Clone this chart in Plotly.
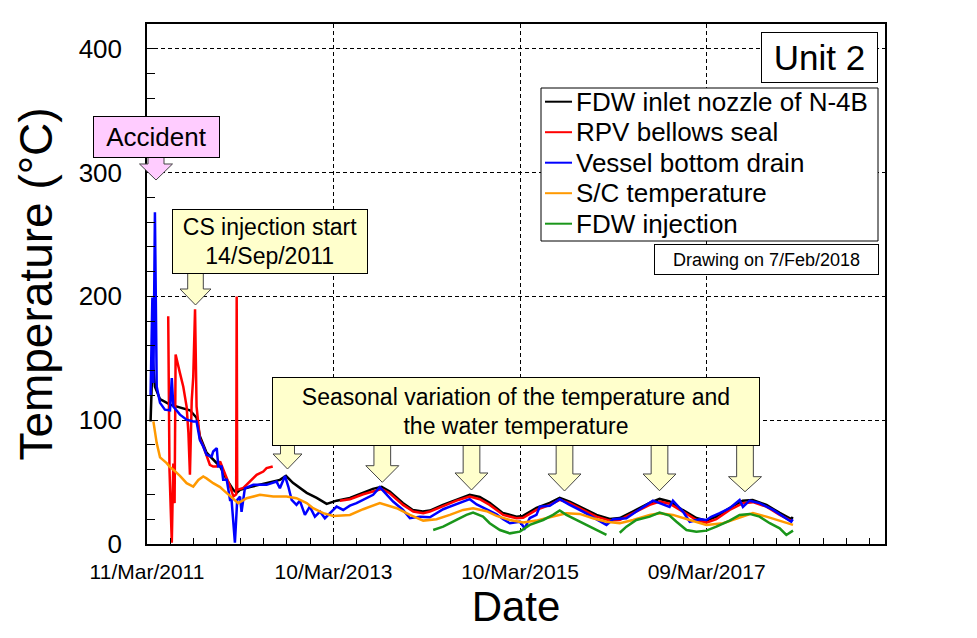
import pandas as pd
import plotly.graph_objects as go

# ---------------- data (days elapsed since 11/Mar/2011, temperature in degC) ----------------
accident_date = "2011-03-11"

fdw_nozzle_days = [14, 19, 22, 31, 51, 90, 116, 141, 168, 194, 207, 233, 259, 286, 312, 338, 351, 364,
                   403, 442, 468, 520, 544, 571, 625, 664, 703, 727, 742, 794, 845, 884, 918, 950,
                   1001, 1040, 1079, 1107, 1158, 1211, 1263, 1302, 1341, 1392, 1446, 1471, 1524,
                   1576, 1615, 1654, 1705, 1759, 1811, 1850, 1901, 1967, 2006, 2045, 2096, 2150,
                   2189, 2228, 2280, 2331, 2370, 2424, 2476, 2521, 2527]
fdw_nozzle_vals = [99, 140, 150, 127, 117, 112.5, 111, 110, 108, 102, 87, 73.7, 68, 62.6, 52, 43.7, 41.3, 43.7,
                   46, 47.8, 49.4, 51.8, 55, 49.4, 41.3, 37.2, 32.4, 34.3, 35, 37.2, 41.3, 44.5, 46.2, 42.3,
                   33.2, 27.5, 26.2, 27, 31.6, 35.6, 39.7, 38, 33.2, 25.1, 22.1, 22.7, 29.1,
                   33.2, 37.2, 34.3, 29.1, 23.5, 20.2, 21, 26.2, 33.2, 36.4, 34.3, 27.5, 21,
                   18.9, 22.1, 29.1, 35, 35.6, 31.6, 25.1, 20.2, 21.9]

rpv_bellows_days = [83, 88, 97, 103, 108, 112, 129, 142, 155, 162, 168, 175, 181, 188, 194, 207, 220, 233,
                    246, 259, 273, 286, 305, 325, 338, 349, 351, 353, 377, 403, 429, 455, 468, 492, None,
                    755, 794, 846, 885, 918, 950, 1002, 1042, 1081, 1107, 1159, 1211, 1263, 1302, 1341,
                    1394, 1446, 1472, 1524, 1576, 1615, 1654, 1706, 1759, 1811, 1850, 1902, 1967, 2006,
                    2045, 2097, 2150, 2189, 2228, 2280, 2332, 2371, 2424, 2476, 2521]
rpv_bellows_vals = [184, 60, 1, 65, 33, 153, 138, 127, 111, 90, 56, 116, 135, 189.5, 111, 85, 79, 70.7,
                    64, 62.6, 62.6, 66.6, 57.5, 46.4, 38.3, 40, 200, 43.7, 45.3, 50.4, 55.9, 58.5, 61.3, 62.6, None,
                    35, 36.2, 40.2, 42.3, 44.3, 41, 31.6, 26.2, 24.9, 26.2, 30.8, 35, 38.3, 36.2, 31.6,
                    23.5, 20.8, 21.2, 27.5, 31.6, 35.6, 33, 27.5, 22.1, 18.9, 19.4, 24.9, 31.6, 34.3,
                    32.5, 26.2, 19.4, 17.3, 20, 27.5, 33, 33.8, 30.2, 23.5, 18.6]

vessel_drain_days = [14, 21, 25, 31, 38, 51, 70, 90, 97, 103, 129, 155, 181, 194, 207, 220, 233, 253, 259,
                     273, 279, 292, 298, 312, 325, 331, 344, 353, 364, 370, 383, 416, 468, 507, 520, 540,
                     553, 566, 585, 598, 618, 637, 657, 677, 696, 722, 742, 768, 794, 820, 846, 885, 911,
                     937, 963, 1002, 1029, 1068, 1107, 1159, 1211, 1263, 1290, 1329, 1368, 1394, 1420,
                     1459, 1478, 1498, 1524, 1537, 1576, 1615, 1654, 1706, 1759, 1798, 1824, 1876, 1915,
                     1980, 2006, 2045, 2058, 2097, 2124, 2163, 2189, 2208, 2241, 2280, 2319, 2332, 2358,
                     2397, 2450, 2489, 2521, 2527]
vessel_drain_vals = [120, 199, 130, 268, 127, 114, 108.5, 108, 134, 111, 104.5, 100.4, 99, 99, 84, 78.8, 72, 70.7, 74.7,
                     77.5, 62.6, 62.6, 51.8, 51.8, 35.6, 35.6, 1, 35.6, 38.3, 26, 45, 47.8, 47.8, 50.4, 45, 55,
                     46.4, 35.6, 31.6, 35, 23.5, 30.2, 22.1, 26.2, 20.8, 26.2, 30.2, 27.5, 31, 33, 35.6, 39.7, 45.9,
                     39.7, 34.3, 27.5, 20.8, 22.1, 21.6, 28.1, 32.4, 36.2, 32, 28.1, 24, 20, 16.8,
                     18, 12.7, 21, 23.5, 30.2, 30.8, 36.2, 31.6, 26.2, 20, 15.4, 20, 20.8, 26.2,
                     35, 33, 30, 35, 26.2, 18, 20, 19.4, 22, 24.9, 28.9, 35.6, 30, 35,
                     33, 27.5, 22.1, 18, 20]

sc_temp_days = [25, 38, 51, 77, 90, 103, 129, 155, 181, 201, 220, 233, 259, 286, 298, 312, 338, 351, 357,
                390, 442, 494, 546, 585, 625, 650, 690, 729, 794, 846, 911, 977, 1029, 1081, 1133, 1185,
                1237, 1276, 1329, 1368, 1420, 1472, 1524, 1576, 1641, 1693, 1745, 1798, 1850, 1902, 1967,
                2006, 2058, 2124, 2189, 2254, 2319, 2371, 2424, 2476, 2528]
sc_temp_vals = [99, 81.5, 70, 65.3, 62.1, 60, 55, 49.1, 46.4, 51.8, 54.5, 53, 49.1, 46, 43.7, 41, 36.5, 33.4, 33,
                37, 39.7, 38.3, 38.3, 37, 33, 28.9, 24.9, 22.7, 23.5, 28.1, 33, 28.9, 23.5, 18.9, 20, 23.5,
                27.5, 28.9, 26.5, 22.7, 19.4, 17.3, 18.9, 21.6, 24.9, 24.3, 20.8, 18, 16.8, 19.4, 23.5,
                24.9, 23.5, 19.4, 15.4, 16.8, 21.6, 24.9, 22.1, 18.9, 15.4]

fdw_injection_days = [1120, 1159, 1211, 1250, 1276, 1315, 1341, 1381, 1420, 1459, 1498, 1550, 1589, 1615,
                      1641, 1693, 1745, 1798, None, 1850, 1876, 1915, 1967, 2006, 2045, 2072, 2111, 2150,
                      2189, 2228, 2280, 2319, 2358, 2397, 2437, 2476, 2502, 2528]
fdw_injection_vals = [11.3, 14, 19.4, 23.5, 25.4, 22.1, 16.8, 11.3, 8.6, 10, 15.4, 19.4, 23.5, 27,
                      23.5, 18, 12.7, 7.3, None, 9.1, 14, 19.4, 22.1, 25.4, 23, 18, 11.3, 10,
                      10.8, 14, 18.9, 23.5, 24.3, 22.1, 16.8, 12.7, 7.3, 10.8]

series_names = ["FDW inlet nozzle of N-4B", "RPV bellows seal", "Vessel bottom drain",
                "S/C temperature", "FDW injection"]
x_tick_days = [0, 730, 1460, 2190]
x_tick_labels = ["11/Mar/2011", "10/Mar/2013", "10/Mar/2015", "09/Mar/2017"]
y_tick_values = [0, 100, 200, 300, 400]

# ---------------- styling ----------------
FONT = "Liberation Sans, Arial, sans-serif"
colors = ["#000000", "#ff0000", "#0000ff", "#ff9900", "#1a961a"]
base = pd.Timestamp(accident_date)


def to_dates(days):
    return [None if d is None else base + pd.Timedelta(days=d) for d in days]


fig = go.Figure()
all_days = [fdw_nozzle_days, rpv_bellows_days, vessel_drain_days, sc_temp_days, fdw_injection_days]
all_vals = [fdw_nozzle_vals, rpv_bellows_vals, vessel_drain_vals, sc_temp_vals, fdw_injection_vals]
for name, d, v, c in zip(series_names, all_days, all_vals, colors):
    fig.add_trace(go.Scatter(x=to_dates(d), y=v, mode="lines", name=name,
                             line=dict(color=c, width=2.5), connectgaps=False, showlegend=False))

W, H = 977, 638
L, R, T, B = 147, 92, 24, 94
PW, PH = W - L - R, H - T - B


def px(x):
    return (x - L) / PW


def py(y):
    return (H - B - y) / PH


def arrow(cx, top, base_y, tip, sw, hw, fill):
    pts = [(cx - sw / 2, top), (cx + sw / 2, top), (cx + sw / 2, base_y), (cx + hw / 2, base_y),
           (cx, tip), (cx - hw / 2, base_y), (cx - sw / 2, base_y)]
    path = "M " + " L ".join(f"{px(a):.5f},{py(b):.5f}" for a, b in pts) + " Z"
    return dict(type="path", path=path, xref="paper", yref="paper", fillcolor=fill,
                line=dict(color="#444444", width=1), layer="above")


PINK, YELLOW = "#ffccff", "#ffffcc"
shapes = [arrow(156, 157, 164, 180, 16, 33, PINK),
          arrow(195.5, 273, 289, 305, 15.6, 31, YELLOW),
          arrow(287.5, 445, 454, 469, 14, 29, YELLOW),
          arrow(382.3, 445, 465.7, 482.3, 16.7, 33, YELLOW),
          arrow(471.5, 445, 473, 490, 16.7, 33, YELLOW),
          arrow(564.5, 445, 474, 491, 16.7, 33, YELLOW),
          arrow(659.5, 445, 474, 490.7, 16.7, 33, YELLOW),
          arrow(745, 445, 476.7, 491.7, 16.7, 33, YELLOW)]


def box(text, x0, y0, x1, y1, size, fill="#ffffff"):
    return dict(text=text, xref="paper", yref="paper", x=px((x0 + x1) / 2), y=py((y0 + y1) / 2),
                xanchor="center", yanchor="middle", showarrow=False,
                width=x1 - x0 - 2, height=y1 - y0 - 2, borderpad=0, borderwidth=1,
                bordercolor="#000000", bgcolor=fill, align="center",
                font=dict(family=FONT, size=size, color="#000000"))


annotations = [
    box("Accident", 93, 116, 220, 158, 26, PINK),
    box("CS injection start<br>14/Sep/2011", 172, 209, 368, 274, 23, YELLOW),
    box("Seasonal variation of the temperature and<br>the water temperature", 272, 377, 760, 446, 23, YELLOW),
    box("Unit 2", 761, 32, 878, 83, 35),
    box("Drawing on 7/Feb/2018", 654, 244, 879, 275, 18),
]

# legend key (box, short line samples and names of the five series)
shapes.append(dict(type="rect", xref="paper", yref="paper", x0=px(541), x1=px(878), y0=py(241), y1=py(88),
                   fillcolor="white", line=dict(color="#000000", width=1), layer="above"))
row_y = [101.7, 132.2, 162.7, 193.2, 223.7]
for name, c, ry in zip(series_names, colors, row_y):
    shapes.append(dict(type="line", xref="paper", yref="paper", x0=px(545), x1=px(572),
                       y0=py(ry), y1=py(ry), line=dict(color=c, width=2), layer="above"))
    annotations.append(dict(text=name, xref="paper", yref="paper", x=px(574), y=py(ry),
                            xanchor="left", yanchor="middle", showarrow=False,
                            font=dict(family=FONT, size=26, color="#000000")))

fig.update_layout(
    width=W, height=H,
    margin=dict(l=L, r=R, t=T, b=B, pad=0),
    paper_bgcolor="white", plot_bgcolor="white",
    font=dict(family=FONT, color="#000000"),
    shapes=shapes, annotations=annotations,
    showlegend=False,
)

fig.update_xaxes(
    type="date",
    range=[base, base + pd.Timedelta(days=2888)],
    tickmode="array", tickvals=to_dates(x_tick_days), ticktext=x_tick_labels,
    ticks="inside", ticklen=6, tickwidth=1, tickcolor="#000000",
    tickfont=dict(family=FONT, size=21, color="#000000"),
    ticklabelstandoff=8,
    showline=True, linecolor="#000000", linewidth=1.5, mirror=True,
    showgrid=True, gridcolor="#000000", gridwidth=1, griddash="4px,3px",
    zeroline=False,
    minor=dict(tickmode="array", tickvals=[base + pd.Timedelta(days=91.25 * k) for k in range(32)],
               ticks="inside", ticklen=6, tickcolor="#000000", tickwidth=1, showgrid=False),
    title=dict(text="Date", font=dict(family=FONT, size=42, color="#000000"), standoff=6),
)
fig.update_yaxes(
    range=[0, 420],
    tickmode="array", tickvals=y_tick_values,
    ticks="inside", ticklen=8, tickwidth=1, tickcolor="#000000",
    tickfont=dict(family=FONT, size=26, color="#000000"),
    ticklabelstandoff=18,
    showline=True, linecolor="#000000", linewidth=1.5, mirror=True,
    showgrid=True, gridcolor="#000000", gridwidth=1, griddash="4px,3px",
    zeroline=False,
    minor=dict(dtick=20, ticks="inside", ticklen=8, tickcolor="#000000", tickwidth=1, showgrid=False),
    title=dict(text="Temperature (°C)", font=dict(family=FONT, size=46, color="#000000"), standoff=12),
)

fig.write_html("out.html")
